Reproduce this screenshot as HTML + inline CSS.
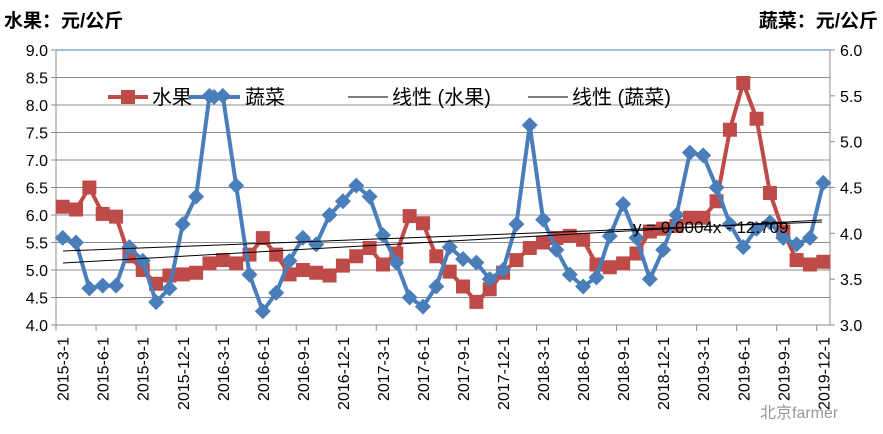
<!DOCTYPE html>
<html><head><meta charset="utf-8"><style>
body{margin:0;background:#fff;}
svg text{font-family:"Liberation Sans","Noto Sans CJK SC",sans-serif;}
</style></head><body>
<svg id="c" width="883" height="429" xmlns="http://www.w3.org/2000/svg"></svg>
<script>
const s=document.getElementById('c');let h='';
const L=56,R=830,T=50,B=325;
const fy=v=>B-(v-4)*(B-T)/5, vy=v=>B-(v-3)*(B-T)/3, X=i=>L+(i+0.5)*(R-L)/58;
h+='<rect x="0" y="0" width="883" height="429" fill="#fff"/>';
for(let k=0;k<=10;k++){const y=fy(4+k*0.5);h+=`<line x1="${L}" x2="${R}" y1="${y}" y2="${y}" stroke="#8c8c8c" stroke-width="1"/>`;
h+=`<line x1="${L-5}" x2="${L}" y1="${y}" y2="${y}" stroke="#8c8c8c"/>`;
h+=`<text x="${L-8}" y="${y+6}" font-size="16" text-anchor="end">${(4+k*0.5).toFixed(1)}</text>`;}
for(let k=0;k<=6;k++){const y=vy(3+k*0.5);h+=`<line x1="${R}" x2="${R+5}" y1="${y}" y2="${y}" stroke="#8c8c8c"/>`;
h+=`<text x="${R+10}" y="${y+6}" font-size="16">${(3+k*0.5).toFixed(1)}</text>`;}
h+=`<line x1="${L}" x2="${R}" y1="${T}" y2="${T}" stroke="#4a7ebb"/>`;
h+=`<line x1="${L}" x2="${L}" y1="${T}" y2="${B}" stroke="#8c8c8c"/><line x1="${R}" x2="${R}" y1="${T}" y2="${B}" stroke="#8c8c8c"/>`;
let yr=2015,m=3;const lab=[];for(let i=0;i<58;i++){lab.push(`${yr}-${m}-1`);m++;if(m>12){m=1;yr++;}}
for(let i=0;i<=58;i+=3){const x=L+i*(R-L)/58;h+=`<line x1="${x}" x2="${x}" y1="${B}" y2="${B+6}" stroke="#8c8c8c"/>`;}
for(let i=0;i<58;i+=3){const x=X(i)+6;h+=`<text transform="translate(${x},${B+12}) rotate(-90)" font-size="16" text-anchor="end">${lab[i]}</text>`;}
const F=[6.15,6.1,6.5,6.02,5.97,5.25,5.0,4.75,4.9,4.92,4.95,5.12,5.18,5.12,5.28,5.58,5.28,4.92,5.0,4.95,4.9,5.08,5.25,5.4,5.1,5.3,5.98,5.85,5.25,4.97,4.7,4.42,4.65,4.95,5.18,5.4,5.5,5.58,5.62,5.55,5.1,5.05,5.12,5.3,5.7,5.75,5.8,5.95,5.95,6.25,7.55,8.4,7.75,6.4,5.7,5.18,5.1,5.15];
const V=[3.95,3.9,3.4,3.43,3.43,3.85,3.7,3.25,3.4,4.1,4.4,5.5,5.5,4.52,3.55,3.15,3.35,3.7,3.95,3.88,4.2,4.35,4.52,4.4,3.98,3.68,3.3,3.2,3.42,3.85,3.72,3.68,3.5,3.6,4.1,5.18,4.15,3.82,3.55,3.42,3.52,3.97,4.32,3.95,3.5,3.82,4.2,4.88,4.85,4.5,4.1,3.85,4.05,4.12,3.95,3.88,3.95,4.55];
h+=`<polyline fill="none" stroke="#be4b48" stroke-width="4" stroke-linejoin="round" points="${F.map((v,i)=>X(i)+','+fy(v)).join(' ')}"/>`;
F.forEach((v,i)=>{h+=`<rect x="${X(i)-7}" y="${fy(v)-7}" width="14" height="14" fill="#be4b48"/>`;});
h+=`<polyline fill="none" stroke="#4a7ebb" stroke-width="4" stroke-linejoin="round" points="${V.map((v,i)=>X(i)+','+vy(v)).join(' ')}"/>`;
V.forEach((v,i)=>{const x=X(i),y=vy(v);h+=`<polygon points="${x},${y-8} ${x+8},${y} ${x},${y+8} ${x-8},${y}" fill="#4a7ebb"/>`;});
h+=`<line x1="63" y1="251" x2="822" y2="222" stroke="#000" stroke-width="1"/>`;
h+=`<line x1="63" y1="263" x2="822" y2="220" stroke="#000" stroke-width="1"/>`;
h+=`<text x="633" y="233" font-size="17">y = 0.0004x - 12.709</text>`;
h+=`<line x1="108" x2="148" y1="97" y2="97" stroke="#be4b48" stroke-width="4"/><rect x="121" y="90" width="14" height="14" fill="#be4b48"/>`;
h+=`<text x="152" y="104" font-size="20">水果</text>`;
h+=`<line x1="188" x2="240" y1="97" y2="97" stroke="#4a7ebb" stroke-width="4"/><polygon points="214,89 222,97 214,105 206,97" fill="#4a7ebb"/>`;
h+=`<text x="245" y="104" font-size="20">蔬菜</text>`;
h+=`<line x1="348" x2="388" y1="97" y2="97" stroke="#000"/><text x="392" y="104" font-size="20">线性 (水果)</text>`;
h+=`<line x1="528" x2="568" y1="97" y2="97" stroke="#000"/><text x="572" y="104" font-size="20">线性 (蔬菜)</text>`;
h+=`<text x="4" y="27" font-size="19" font-weight="bold">水果：元/公斤</text>`;
h+=`<text x="878" y="27" font-size="19" font-weight="bold" text-anchor="end">蔬菜：元/公斤</text>`;
h+=`<text x="760" y="418" font-size="16" fill="#999">北京farmer</text>`;
s.innerHTML=h;
</script>
</body></html>
